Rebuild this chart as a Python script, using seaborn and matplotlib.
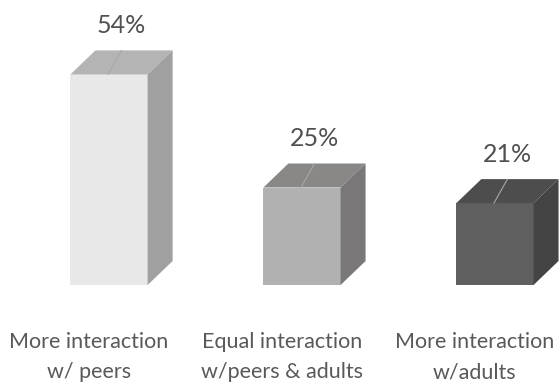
import matplotlib
matplotlib.use("Agg")
import matplotlib.pyplot as plt
import seaborn as sns
import pandas as pd
from matplotlib.patches import Polygon

# Survey shares by interaction pattern
categories = [
    "More interaction\nw/ peers",
    "Equal interaction\nw/peers & adults",
    "More interaction\nw/adults",
]
shares = [54, 25, 21]
value_labels = ["54%", "25%", "21%"]

# Face shading of each box: front, top, right side
front_colors = ["#e8e8e8", "#b1b1b1", "#5f5f5f"]
top_colors = ["#b4b4b4", "#8a8887", "#4d4d4d"]
side_colors = ["#a0a0a0", "#797777", "#444444"]

sns.set_theme(style="white")
plt.rcParams["font.family"] = ["Lato", "DejaVu Sans"]

W, H = 559, 386
fig = plt.figure(figsize=(W / 100, H / 100), dpi=100)
base_px = 101
ax = fig.add_axes([0, base_px / H, 1, 1 - base_px / H])

df = pd.DataFrame({"category": categories, "share": shares})
sns.barplot(data=df, x="category", y="share", hue="category",
            palette=front_colors, saturation=1, width=0.4,
            legend=False, ax=ax, linewidth=0)
bars = list(ax.patches)

px_per_unit = 3.9
ax.set_ylim(0, (H - base_px) / px_per_unit)
ax.set_xlim(-0.565, 2.332)
x_px = W / (2.332 + 0.565)

# depth of the 3D extrusion in data units
dx = 25 / x_px
dy = 24 / px_per_unit

for i, patch in enumerate(bars):
    x0, w, h = patch.get_x(), patch.get_width(), patch.get_height()
    cx = x0 + w / 2
    top = Polygon([(x0, h), (x0 + w, h), (x0 + w + dx, h + dy), (x0 + dx, h + dy)],
                  closed=True, facecolor=top_colors[i], edgecolor="none")
    side = Polygon([(x0 + w, 0), (x0 + w + dx, dy), (x0 + w + dx, h + dy), (x0 + w, h)],
                   closed=True, facecolor=side_colors[i], edgecolor="none")
    ax.add_patch(top)
    ax.add_patch(side)
    lx = cx + dx * 0.5
    ax.plot([lx, cx - 0.005], [h + dy, h], color="#a8a8a8", lw=0.8, zorder=5)
    ax.text(lx, h + dy + 6.3, value_labels[i], ha="center", va="center",
            fontsize=18, color="#505050")

ax.set_xticks([p.get_x() + p.get_width() / 2 - 0.105 for p in bars])
ax.set_xticklabels(categories, fontsize=15.5, color="#595959", linespacing=1.62)
ax.tick_params(axis="x", length=0, pad=34)
ax.set_yticks([])
ax.set_xlabel("")
ax.set_ylabel("")
for s in ax.spines.values():
    s.set_visible(False)

fig.savefig("out.png", dpi=100)
